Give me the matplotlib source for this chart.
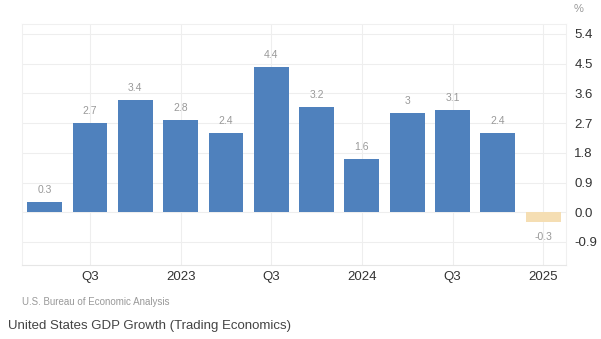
import numpy as np
import matplotlib.pyplot as plt

plt.rcParams['font.family'] = ['Liberation Sans', 'DejaVu Sans']

# quarterly GDP growth, Q2 2022 .. Q1 2025
quarters = ["Q2 2022", "Q3 2022", "Q4 2022", "Q1 2023", "Q2 2023", "Q3 2023",
            "Q4 2023", "Q1 2024", "Q2 2024", "Q3 2024", "Q4 2024", "Q1 2025"]
growth = [0.3, 2.7, 3.4, 2.8, 2.4, 4.4, 3.2, 1.6, 3.0, 3.1, 2.4, -0.3]
value_labels = ["0.3", "2.7", "3.4", "2.8", "2.4", "4.4", "3.2", "1.6", "3", "3.1", "2.4", "-0.3"]
tick_pos = [1, 3, 5, 7, 9, 11]
tick_labels = ["Q3", "2023", "Q3", "2024", "Q3", "2025"]
yticks = [-0.9, 0.0, 0.9, 1.8, 2.7, 3.6, 4.5, 5.4]

blue = "#4f81bd"
tan = "#f5deb3"

fig = plt.figure(figsize=(6.01, 3.39), dpi=100)
ax = fig.add_axes([0.0366, 0.218, 0.905, 0.711])

x = np.arange(len(growth))
colors = [blue if v >= 0 else tan for v in growth]
ax.bar(x, growth, width=0.77, color=colors, zorder=3)

for xi, v, lab in zip(x, growth, value_labels):
    if v >= 0:
        ax.annotate(lab, (xi, v), xytext=(0, 5), textcoords="offset points",
                    ha="center", va="bottom", fontsize=7.5, color="#999999")
    else:
        ax.annotate(lab, (xi, v), xytext=(0, -7), textcoords="offset points",
                    ha="center", va="top", fontsize=7.5, color="#999999")

ax.set_xlim(-0.5, 11.5)
ax.set_ylim(-1.6, 5.7)
ax.set_xticks(tick_pos)
ax.set_xticklabels(tick_labels, fontsize=9.5, color="#333333")
ax.set_yticks(yticks)
ax.set_yticklabels([f"{t:.1f}" for t in yticks], fontsize=9.5, color="#333333")
ax.yaxis.tick_right()
ax.tick_params(axis="both", length=0, pad=4)
ax.tick_params(axis="y", pad=6)
ax.grid(True, color="#eeeeee", linewidth=0.8, zorder=0)

for side in ["top", "left", "right"]:
    ax.spines[side].set_color("#f0f0f0")
ax.spines["bottom"].set_color("#e6e6e6")

fig.text(0.962, 0.972, "%", fontsize=8, color="#999999", ha="center", va="center")
fig.text(0.037, 0.108, "U.S. Bureau of Economic Analysis", fontsize=7, color="#999999",
         ha="left", va="center")
fig.text(0.013, 0.037, "United States GDP Growth (Trading Economics)", fontsize=9.5,
         color="#444444", ha="left", va="center")

fig.savefig("out.png", dpi=100)
